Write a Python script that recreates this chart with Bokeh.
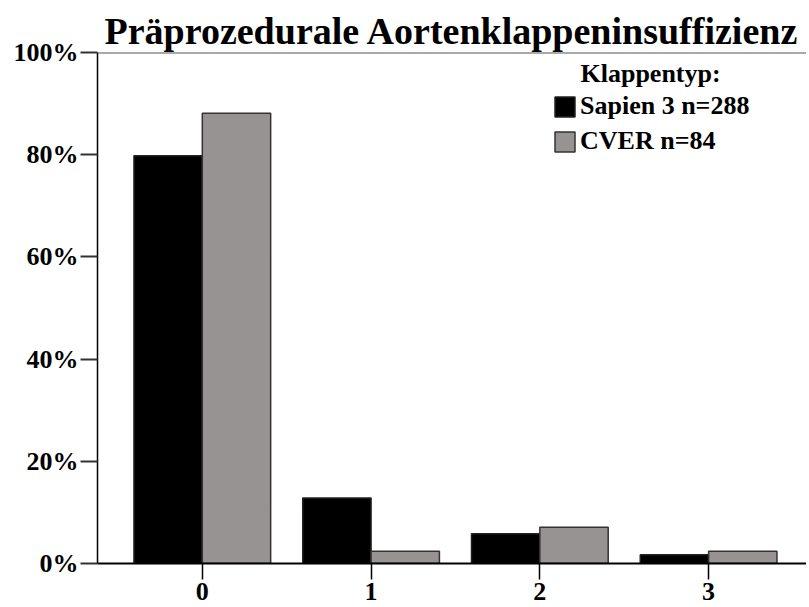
from bokeh.plotting import figure
from bokeh.models import (Range1d, FixedTicker, NumeralTickFormatter, Span, Label,
                          Legend, LegendItem, ColumnDataSource)
from bokeh.embed import file_html
from bokeh.resources import INLINE

categories = ["0", "1", "2", "3"]
sapien = [0.798, 0.128, 0.058, 0.017]
cver = [0.881, 0.024, 0.071, 0.024]
series_names = ["Sapien 3 n=288", "CVER n=84"]
y_ticks = [0, 0.2, 0.4, 0.6, 0.8, 1.0]

FONT = "Liberation Serif"
BAR_W = 0.405

xs = list(range(len(categories)))

p = figure(width=806, height=606, output_backend="svg", toolbar_location=None,
           x_range=Range1d(-0.621, 3.58), y_range=Range1d(0, 1),
           min_border_left=97, min_border_right=0, min_border_top=52, min_border_bottom=43)

p.title.text = "Präprozedurale Aortenklappeninsuffizienz"
p.title.text_font = FONT
p.title.text_font_size = "38px"
p.title.text_font_style = "bold"
p.title.align = "left"
p.title.offset = 7
p.title.standoff = 2
p.title.text_color = "black"

src1 = ColumnDataSource(dict(x=[x - BAR_W / 2 for x in xs], top=sapien))
src2 = ColumnDataSource(dict(x=[x + BAR_W / 2 for x in xs], top=cver))
r1 = p.vbar(x="x", top="top", width=BAR_W, source=src1, fill_color="black",
            line_color="#222222", line_width=1.5)
r2 = p.vbar(x="x", top="top", width=BAR_W, source=src2, fill_color="#979392",
            line_color="#333333", line_width=1.5)

p.xgrid.visible = False
p.ygrid.visible = False
p.outline_line_color = None
p.background_fill_color = "white"
p.border_fill_color = "white"

# axes
p.yaxis.ticker = FixedTicker(ticks=y_ticks)
p.yaxis.formatter = NumeralTickFormatter(format="0%")
p.yaxis.major_label_text_font = FONT
p.yaxis.major_label_text_font_size = "26px"
p.yaxis.major_label_text_font_style = "bold"
p.yaxis.major_label_text_color = "black"
p.yaxis.major_tick_in = 0
p.yaxis.major_tick_out = 17
p.yaxis.major_tick_line_width = 2
p.yaxis.major_tick_line_color = "#333333"
p.yaxis.minor_tick_line_color = None
p.yaxis.axis_line_width = 1.5
p.yaxis.axis_line_color = "black"
p.yaxis.major_label_standoff = 2

p.xaxis.ticker = FixedTicker(ticks=xs)
p.xaxis.major_label_overrides = {i: c for i, c in zip(xs, categories)}
p.xaxis.major_label_text_font = FONT
p.xaxis.major_label_text_font_size = "26px"
p.xaxis.major_label_text_font_style = "bold"
p.xaxis.major_label_text_color = "black"
p.xaxis.major_tick_in = 0
p.xaxis.major_tick_out = 16
p.xaxis.major_tick_line_width = 1.5
p.xaxis.major_tick_line_color = "black"
p.xaxis.minor_tick_line_color = None
p.xaxis.axis_line_width = 2
p.xaxis.axis_line_color = "black"
p.xaxis.major_label_standoff = 3

p.add_layout(Span(location=1.0, dimension="width", line_color="#555555", line_width=2))

p.add_layout(Label(x=483, y=490, x_units="screen", y_units="screen", text="Klappentyp:",
                   text_font=FONT, text_font_size="26px", text_font_style="bold",
                   text_color="black", text_baseline="alphabetic"))

legend = Legend(items=[LegendItem(label=series_names[0], renderers=[r1]),
                       LegendItem(label=series_names[1], renderers=[r2])],
                location=(455, 407), orientation="vertical",
                label_text_font=FONT, label_text_font_size="26px",
                label_text_font_style="bold", label_text_color="black",
                glyph_width=25, glyph_height=25, label_height=25, label_standoff=3,
                spacing=5, padding=0, margin=0, border_line_color=None,
                background_fill_alpha=0)
p.add_layout(legend)

open("out.html", "w").write(file_html(p, INLINE))
